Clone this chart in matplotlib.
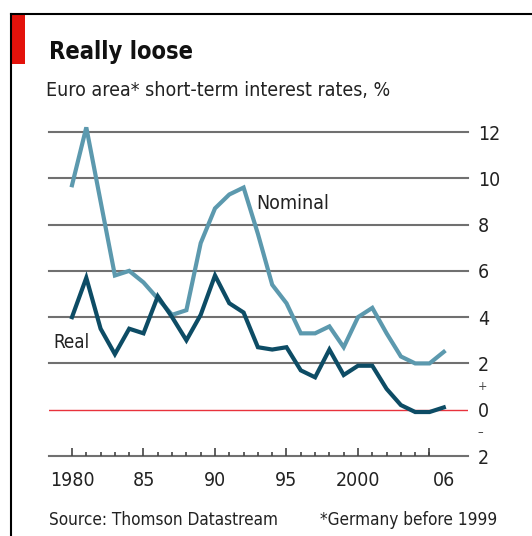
import matplotlib.pyplot as plt
from matplotlib.patches import Rectangle
from matplotlib.lines import Line2D
import matplotlib.transforms as mtransforms

plt.rcParams['font.family'] = ['DejaVu Sans']
plt.rcParams['font.stretch'] = 'condensed'

# data
years = list(range(1980, 2007))
nominal = [9.7, 12.2, 9.0, 5.8, 6.0, 5.5, 4.8, 4.1, 4.3, 7.2, 8.7, 9.3, 9.6,
           7.6, 5.4, 4.6, 3.3, 3.3, 3.6, 2.7, 4.0, 4.4, 3.3, 2.3, 2.0, 2.0, 2.5]
real = [4.0, 5.7, 3.5, 2.4, 3.5, 3.3, 4.9, 4.0, 3.0, 4.1, 5.8, 4.6, 4.2,
        2.7, 2.6, 2.7, 1.7, 1.4, 2.6, 1.5, 1.9, 1.9, 0.9, 0.2, -0.1, -0.1, 0.1]
grid_vals = [12, 10, 8, 6, 4, 2, -2]
ytick_labels = ['12', '10', '8', '6', '4', '2', '0', '2']
ytick_vals = [12, 10, 8, 6, 4, 2, 0, -2]
xlabel_years = [1980, 1985, 1990, 1995, 2000, 2006]
xlabel_text = ['1980', '85', '90', '95', '2000', '06']

W, H = 532, 536
fig = plt.figure(figsize=(W/100, H/100), dpi=100)

# frame and red tag
fig.add_artist(Line2D([11/W, 11/W], [0, 1-14/H], color='black', lw=1.5))
fig.add_artist(Line2D([11/W, 1], [1-14/H, 1-14/H], color='black', lw=1.5))
fig.add_artist(Rectangle((11/W, 1-64/H), 14/W, 50/H, color='#e3120b', lw=0))

fig.text(49/W, 1-52/H, 'Really loose', fontsize=17, fontweight='bold',
         va='center', ha='left', color='#111111')
fig.text(46/W, 1-90/H, 'Euro area* short-term interest rates, %', fontsize=14,
         va='center', ha='left', color='#222222')

ax = fig.add_axes([49/W, 1-456/H, (468-49)/W, (456-132)/H])
x0 = 1980 - 23/14.3
x1 = 1980 + 396/14.3
ax.set_xlim(x0, x1)
ax.set_ylim(-2, 12)
for s in ax.spines.values():
    s.set_visible(False)

for v in grid_vals:
    ax.axhline(v, color='#707070', lw=1.5, zorder=1, clip_on=False)
ax.axhline(0, color='#e8323c', lw=1.0, zorder=1)

ax.plot(years, nominal, color='#5c99ae', lw=3.0, zorder=3, clip_on=False,
        solid_joinstyle='miter')
ax.plot(years, real, color='#0d4c65', lw=3.0, zorder=4, clip_on=False,
        solid_joinstyle='miter')

ax.text(1992.9, 8.9, 'Nominal', fontsize=14, va='center', ha='left', color='#222222')
ax.text(1978.7, 2.9, 'Real', fontsize=13.5, va='center', ha='left', color='#222222')

# right hand labels
ax.yaxis.tick_right()
ax.set_yticks(ytick_vals)
ax.set_yticklabels(ytick_labels, fontsize=14, color='#222222')
ax.tick_params(axis='y', length=0, pad=7)
ax.text(x1 + 0.65, 1, '+', fontsize=9, va='center', ha='left', color='#444444')
ax.text(x1 + 0.65, -1, '\u2013', fontsize=9, va='center', ha='left', color='#444444')

# x axis ticks sitting on the bottom line
ax.set_xticks(xlabel_years)
ax.set_xticklabels(xlabel_text, fontsize=14, color='#222222')
ax.set_xticks(years, minor=True)
ax.tick_params(axis='x', which='major', length=0, pad=11)
ax.tick_params(axis='x', which='minor', direction='in', length=3, width=1.2,
               color='#444444')
trans = mtransforms.blended_transform_factory(ax.transData, ax.transAxes)
ax.vlines(years[::5], 0, 0.024, transform=trans, color='#444444', lw=1.2)

fig.text(49/W, 1-520/H, 'Source: Thomson Datastream', fontsize=12.3,
         va='center', ha='left', color='#222222')
fig.text(497/W, 1-520/H, '*Germany before 1999', fontsize=12.3,
         va='center', ha='right', color='#222222')

fig.savefig('out.png', dpi=100)
